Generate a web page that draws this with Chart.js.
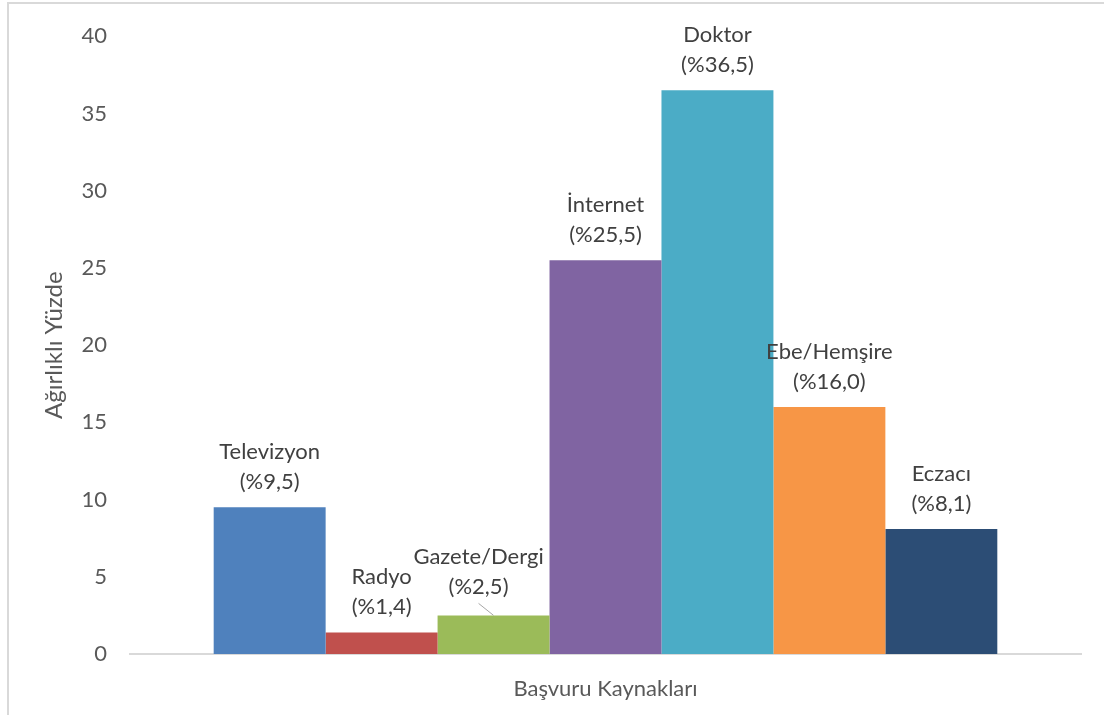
<!DOCTYPE html>
<html>
<head>
<meta charset="utf-8">
<script src="https://cdn.jsdelivr.net/npm/chart.js@4"></script>
<style>
  html, body { margin: 0; padding: 0; background: #fff; }
  #wrap { width: 1104px; height: 715px; position: relative; }
</style>
</head>
<body>
<div id="wrap"><canvas id="chart" width="1104" height="715"></canvas></div>
<script>
const category = ["Başvuru Kaynakları"];
const sources = ["Televizyon", "Radyo", "Gazete/Dergi", "İnternet", "Doktor", "Ebe/Hemşire", "Eczacı"];
const shares = [9.5, 1.4, 2.5, 25.5, 36.5, 16.0, 8.1];
const colors = ["#4f81bd", "#c0504d", "#9bbb59", "#8064a2", "#4bacc6", "#f79646", "#2c4d75"];

const FONT = "Lato, 'Open Sans', sans-serif";
const FONT_SIZE = 22;

// outer frame (left and top edges only show)
const framePlugin = {
  id: "frame",
  beforeDraw(chart) {
    const ctx = chart.ctx;
    ctx.save();
    ctx.strokeStyle = "#d9d9d9";
    ctx.lineWidth = 2;
    ctx.beginPath();
    ctx.moveTo(8, 715);
    ctx.lineTo(8, 3);
    ctx.lineTo(1104, 3);
    ctx.stroke();
    ctx.restore();
  }
};

// two-line labels above each bar; Gazete/Dergi gets nudged with a leader line
const labelPlugin = {
  id: "barLabels",
  afterDatasetsDraw(chart) {
    const ctx = chart.ctx;
    ctx.save();
    ctx.font = FONT_SIZE + "px " + FONT;
    ctx.fillStyle = "#404040";
    ctx.textAlign = "center";
    ctx.textBaseline = "middle";
    chart.data.datasets.forEach((ds, i) => {
      const bar = chart.getDatasetMeta(i).data[0];
      let x = bar.x, y = bar.y;
      const val = "(%" + ds.data[0].toFixed(1).replace(".", ",") + ")";
      if (ds.label === "Gazete/Dergi") {
        const lx = x - 15, ly = y - 3;
        ctx.strokeStyle = "#a6a6a6";
        ctx.lineWidth = 1;
        ctx.beginPath();
        ctx.moveTo(lx, y - 12);
        ctx.lineTo(x, y);
        ctx.stroke();
        x = lx; y = ly;
      }
      ctx.fillText(val, x, y - 25);
      ctx.fillText(ds.label, x, y - 55);
    });
    ctx.restore();
  }
};

new Chart(document.getElementById("chart"), {
  type: "bar",
  data: {
    labels: category,
    datasets: sources.map((s, i) => ({
      label: s,
      data: [shares[i]],
      backgroundColor: colors[i],
      borderWidth: 0
    }))
  },
  options: {
    responsive: false,
    animation: false,
    categoryPercentage: 0.824,
    barPercentage: 1,
    layout: { padding: { top: 32, right: 23, left: 0, bottom: 0 } },
    plugins: {
      legend: { display: false },
      tooltip: { enabled: false }
    },
    scales: {
      x: {
        grid: { display: false, drawTicks: false },
        border: { color: "#d9d9d9", width: 2 },
        ticks: { color: "#595959", font: { family: FONT, size: FONT_SIZE }, padding: 22 },
        afterFit(scale) { scale.height = 61; }
      },
      y: {
        min: 0,
        max: 40,
        grid: { display: false, drawTicks: false },
        border: { display: false },
        ticks: { stepSize: 5, color: "#595959", font: { family: FONT, size: FONT_SIZE }, padding: 23 },
        title: {
          display: true,
          text: "Ağırlıklı Yüzde",
          color: "#595959",
          font: { family: FONT, size: 24 },
          padding: { top: 40, bottom: 0 }
        },
        afterFit(scale) { scale.width = 130; }
      }
    }
  },
  plugins: [framePlugin, labelPlugin]
});
</script>
</body>
</html>
